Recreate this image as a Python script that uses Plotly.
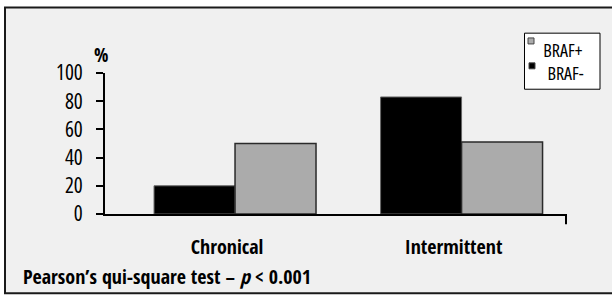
import plotly.graph_objects as go

categories = ["Chronical", "Intermittent"]
series_names = ["BRAF-", "BRAF+"]
braf_neg = [20, 83]
braf_pos = [50, 51]
y_ticks = [0, 20, 40, 60, 80, 100]
footer = "Pearson’s qui-square test – <i>p</i> < 0.001"

COLORS = ["#000000", "#ababab"]
EDGES = ["#666666", "#2a2a2a"]
BOLD = "Open Sans Condensed, Open Sans, Liberation Sans, sans-serif"
REG = "Open Sans, Liberation Sans, sans-serif"

fig = go.Figure()
for name, vals, c, e, lw in zip(series_names, [braf_neg, braf_pos], COLORS, EDGES, [1, 1.5]):
    fig.add_trace(go.Bar(x=categories, y=vals, name=name, showlegend=False,
                         marker=dict(color=c, line=dict(color=e, width=lw))))

W, H = 612, 295
L, R, T, B = 105, 46, 72.7, 80.7
pw, ph = W - L - R, H - T - B

def px(x):
    return (x - L) / pw

def py(y):
    return (H - B - y) / ph

shapes = [
    dict(type="rect", xref="paper", yref="paper", x0=px(5), x1=px(640), y0=py(294), y1=py(7),
         fillcolor="#f0f0f0", line=dict(color="#1a1a1a", width=2), layer="below"),
    dict(type="line", xref="x domain", yref="paper", x0=1, x1=1, y0=0, y1=py(224.5),
         line=dict(color="black", width=2)),
    # legend box
    dict(type="rect", xref="paper", yref="paper", x0=px(524.5), x1=px(600), y0=py(89), y1=py(32.7),
         fillcolor="white", line=dict(color="black", width=1)),
]
annotations = [
    dict(text="<b>%</b>", xref="paper", yref="paper", x=px(101), y=py(54.4), xanchor="center",
         yanchor="middle", showarrow=False, font=dict(size=19, family=BOLD)),
    dict(text="<b>" + footer + "</b>", xref="paper", yref="paper", x=px(21), y=py(277),
         xanchor="left", yanchor="middle", showarrow=False, font=dict(size=20, family=BOLD)),
]
# legend entries (BRAF+ on top, BRAF- below), drawn in legend box
leg = [(1, 528, 37.5, 562.5, 49.2), (0, 529, 62.5, 565.5, 72.2)]
for idx, sx, sy, tx, ty in leg:
    shapes.append(dict(type="rect", xref="paper", yref="paper", x0=px(sx), x1=px(sx + 6),
                       y0=py(sy + 6), y1=py(sy), fillcolor=COLORS[idx],
                       line=dict(color="#444444", width=1)))
    annotations.append(dict(text=series_names[idx], xref="paper", yref="paper", x=px(tx), y=py(ty),
                            xanchor="center", yanchor="middle", showarrow=False,
                            font=dict(size=18, family=REG)))

fig.update_layout(
    width=W, height=H,
    margin=dict(l=L, r=R, t=T, b=B, pad=0, autoexpand=False),
    paper_bgcolor="white",
    plot_bgcolor="rgba(0,0,0,0)",
    barmode="group", bargap=0.285, bargroupgap=0,
    font=dict(family=REG, color="black"),
    xaxis=dict(type="category", range=[-0.574, 1.461], showline=True, linecolor="black",
               linewidth=2, ticks="", showgrid=False, zeroline=False,
               tickfont=dict(size=20, family=BOLD, weight="bold"), ticklabelstandoff=14,
               ticklabelshift=-8),
    yaxis=dict(range=[0, 100], tickvals=y_ticks, showline=True, linecolor="black", linewidth=2,
               ticks="outside", ticklen=7, tickwidth=2, tickcolor="black", showgrid=False,
               zeroline=False, tickfont=dict(size=21, family=REG), ticklabelstandoff=9),
    shapes=shapes,
    annotations=annotations,
)

fig.write_html("out.html", config={"displayModeBar": False},
               post_script="document.body.style.margin='0';"
                           "var s=document.createElement('style');"
                           "s.textContent='svg text{font-stretch:75% !important;}';"
                           "document.head.appendChild(s);")
